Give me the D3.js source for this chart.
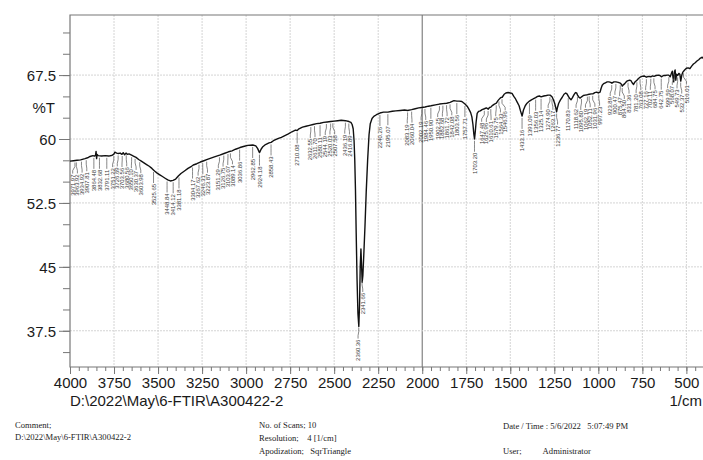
<!DOCTYPE html>
<html>
<head>
<meta charset="utf-8">
<script src="https://cdn.jsdelivr.net/npm/d3@7"></script>
<style>
  body { margin: 0; background: #fff; }
  svg { display: block; }
  .tick-label { font-family: "Liberation Sans", Arial, sans-serif; font-size: 15px; fill: #1a1a1a; }
  .foot { font-family: "Liberation Serif", "Times New Roman", serif; font-size: 8.6px; fill: #222; white-space: pre; }
  .peak { font-family: "Liberation Sans", Arial, sans-serif; font-size: 5.9px; fill: #3a3a3a; }
</style>
</head>
<body>
<div id="chart"></div>
<script>
// spectrum: [wavenumber 1/cm, %T]
var spectrum = [
  [4000,57.4],[3980,57.45],[3960,57.5],[3940,57.55],[3915,57.7],[3900,57.8],[3886,57.95],[3870,58.05],
  [3860,58.0],[3855,58.1],[3852,58.55],[3849,57.7],[3846,58.2],[3840,58.05],[3820,58.0],[3800,58.05],
  [3780,58.0],[3760,58.1],[3752,58.2],[3745,58.45],[3735,58.35],[3725,58.3],[3715,58.35],[3705,58.2],
  [3698,58.4],[3690,58.15],[3682,58.35],[3675,58.2],[3665,58.25],[3650,58.1],[3640,58.0],[3625,57.85],
  [3610,57.6],[3595,57.4],[3580,57.2],[3565,57.0],[3550,56.8],[3535,56.55],[3520,56.25],[3505,56.0],
  [3490,55.8],[3475,55.6],[3460,55.4],[3445,55.2],[3430,55.08],[3415,55.15],[3400,55.3],[3385,55.65],
  [3370,55.95],[3350,56.25],[3330,56.55],[3310,56.8],[3300,56.95],[3280,57.1],[3260,57.3],[3240,57.45],
  [3220,57.6],[3200,57.75],[3180,57.9],[3150,58.1],[3125,58.3],[3100,58.5],[3080,58.6],[3060,58.8],
  [3035,59.0],[3010,59.15],[2990,59.25],[2962,59.3],[2945,59.2],[2935,58.9],[2924,58.4],[2915,58.8],
  [2905,59.1],[2890,59.35],[2870,59.55],[2858,59.6],[2845,59.8],[2820,60.05],[2800,60.2],[2780,60.4],
  [2760,60.6],[2740,60.85],[2720,61.05],[2710,61.0],[2700,61.2],[2680,61.4],[2660,61.5],[2640,61.6],
  [2620,61.7],[2600,61.8],[2580,61.85],[2560,61.95],[2540,62.0],[2520,62.05],[2500,62.1],[2480,62.15],
  [2460,62.2],[2436,62.15],[2416,62.05],[2405,61.95],[2398,61.7],[2392,61.2],[2387,59.8],[2383,57.5],
  [2379,54.0],[2375,49.0],[2370,43.5],[2365,39.5],[2360,38.0],[2356,40.5],[2352,45.0],[2348,47.1],
  [2345,45.5],[2341,43.2],[2337,44.0],[2332,46.3],[2325,49.8],[2318,53.8],[2310,57.5],[2302,60.5],
  [2295,61.8],[2285,62.4],[2275,62.65],[2260,62.85],[2240,63.05],[2220,63.15],[2195,63.15],[2170,63.25],
  [2150,63.3],[2125,63.35],[2100,63.4],[2083,63.35],[2060,63.45],[2040,63.55],[2020,63.65],[2002,63.7],
  [1984,63.75],[1965,63.85],[1950,63.9],[1925,64.0],[1902,64.1],[1882,64.15],[1861,64.2],[1842,64.3],
  [1820,64.5],[1803,64.45],[1790,64.45],[1775,64.4],[1757,64.1],[1745,63.85],[1735,63.5],[1725,63.1],
  [1718,62.6],[1712,61.7],[1707,60.6],[1703,60.0],[1699,60.8],[1694,62.0],[1688,63.0],[1680,63.25],
  [1670,63.3],[1660,63.45],[1647,63.55],[1636,63.65],[1625,63.5],[1618,63.7],[1610,63.75],[1600,63.95],
  [1590,64.1],[1579,64.2],[1570,64.5],[1564,64.65],[1555,64.85],[1546,64.9],[1535,65.25],[1525,65.4],
  [1512,65.45],[1500,65.4],[1490,65.35],[1480,65.0],[1470,64.7],[1460,64.3],[1450,63.9],[1442,63.3],
  [1433,62.7],[1425,63.4],[1415,63.9],[1405,64.2],[1391,64.45],[1380,64.6],[1370,64.7],[1356,64.85],
  [1345,65.0],[1335,65.05],[1325,64.95],[1310,65.05],[1295,65.1],[1285,65.15],[1274,65.15],[1263,64.95],
  [1255,64.6],[1248,64.2],[1242,63.7],[1237,63.2],[1232,63.7],[1225,64.2],[1215,64.6],[1205,64.9],
  [1195,65.25],[1185,65.4],[1178,65.3],[1170,65.0],[1162,64.75],[1155,64.6],[1147,64.85],[1138,65.2],
  [1130,65.45],[1123,65.4],[1118,65.15],[1110,64.9],[1103,64.8],[1095,64.95],[1085,65.1],[1075,65.15],
  [1062,65.2],[1052,65.25],[1040,65.3],[1031,65.3],[1020,65.45],[1010,65.5],[1000,65.4],[990,65.5],
  [985,65.9],[978,66.3],[970,66.5],[960,66.6],[950,66.7],[940,66.7],[930,66.65],[923,66.55],
  [912,66.7],[900,66.7],[887,66.65],[875,66.55],[868,66.4],[864,66.2],[858,66.35],[850,66.5],
  [840,66.75],[831,66.85],[822,66.9],[815,66.85],[808,66.6],[800,66.4],[792,66.7],[781,66.9],
  [772,67.1],[763,67.25],[752,67.35],[740,67.4],[727,67.25],[715,67.35],[702,67.3],[693,67.4],
  [684,67.35],[672,67.45],[660,67.5],[650,67.45],[642,67.3],[630,67.45],[620,67.45],[610,67.5],
  [600,67.5],[592,67.3],[585,67.7],[580,67.95],[576,67.2],[572,66.7],[568,67.9],[564,68.1],
  [560,66.9],[556,67.6],[549,67.45],[543,67.7],[537,67.6],[532,66.8],[526,67.5],[520,67.85],
  [510,68.1],[500,68.3],[490,68.35],[480,68.25],[470,68.55],[460,68.8],[450,68.95],[440,69.15],
  [430,69.3],[420,69.5],[410,69.6],[400,69.4]
];

// peak table labels
var peakLabels = [
  "3971.97","3963.92","3934.92","3907.81","3864.48","3832.68","3791.11","3751.22","3726.69","3703.56",
  "3680.56","3650.10","3630.37","3603.98","3525.65","3448.84","3414.12","3381.18","3304.17","3267.62",
  "3246.31","3223.87","3151.29","3126.75","3103.07","3089.14","3036.86","2962.85","2924.18","2858.43",
  "2710.08","2632.55","2611.70","2580.11","2544.19","2520.03","2507.58","2436.19","2416.89","2360.36",
  "2341.66","2240.26","2195.07","2083.19","2060.04","2002.19","1984.46","1950.90","1902.25","1882.68",
  "1861.72","1842.08","1803.56","1757.71","1703.20","1647.48","1625.96","1610.61","1579.75","1564.33",
  "1546.96","1433.16","1391.09","1356.03","1325.14","1274.90","1263.17","1236.77","1170.83","1118.62",
  "1095.80","1062.19","1052.11","1031.96","997.23","923.89","900.47","875.47","864.50","831.36",
  "781.20","763.08","727.16","702.11","684.75","642.75","599.59","568.07","549.73","532.37","516.01"
];

var xTickValues = [4000, 3750, 3500, 3250, 3000, 2750, 2500, 2250, 2000, 1750, 1500, 1250, 1000, 750, 500];
var yTickValues = [37.5, 45, 52.5, 60, 67.5];

var footLeft = ["Comment;", "D:\\2022\\May\\6-FTIR\\A300422-2"];
var footMid = ["No. of Scans; 10", "Resolution;    4 [1/cm]", "Apodization;   SqrTriangle"];
var footRight = ["Date / Time : 5/6/2022   5:07:49 PM", "", "User;          Administrator"];

var W = 703, H = 460;
var plot = {left: 70, top: 15, right: 704, bottom: 367};

var xScale = d3.scaleLinear().domain([4000, 400]).range([plot.left, plot.right]);
var yScale = d3.scaleLinear().domain([33.25, 74.55]).range([plot.bottom, plot.top]);

var svg = d3.select("#chart").append("svg")
  .attr("width", W)
  .attr("height", H);

svg.append("defs").append("clipPath").attr("id", "clip")
  .append("rect")
  .attr("x", plot.left).attr("y", plot.top)
  .attr("width", plot.right - plot.left).attr("height", plot.bottom - plot.top);

// grid
var grid = svg.append("g");
grid.selectAll("line.vg")
  .data(xTickValues.filter(function(d) { return d !== 4000; }))
  .enter().append("line")
  .attr("x1", function(d) { return xScale(d); })
  .attr("x2", function(d) { return xScale(d); })
  .attr("y1", plot.top).attr("y2", plot.bottom)
  .attr("stroke", function(d) { return d === 2000 ? "#777" : "#d4d4d4"; })
  .attr("stroke-width", function(d) { return d === 2000 ? 1.1 : 1; })
  .attr("stroke-dasharray", function(d) { return d === 2000 ? null : "2,1"; });

grid.selectAll("line.hg")
  .data(yTickValues)
  .enter().append("line")
  .attr("x1", plot.left).attr("x2", plot.right)
  .attr("y1", function(d) { return yScale(d); })
  .attr("y2", function(d) { return yScale(d); })
  .attr("stroke", "#d4d4d4")
  .attr("stroke-dasharray", "2,1");

// axes
var xAxis = d3.axisBottom(xScale).tickValues(xTickValues).tickSize(7).tickPadding(3)
  .tickFormat(d3.format("d"));
var xMinor = d3.axisBottom(xScale).tickValues(d3.range(4000, 399, -50)).tickSize(4).tickFormat("");
var yAxis = d3.axisLeft(yScale).tickValues(yTickValues).tickSize(11).tickPadding(3)
  .tickFormat(function(d) { return d; });
var yMinor = d3.axisLeft(yScale).tickValues(d3.range(35, 74, 2.5)).tickSize(7).tickFormat("");

function styleAxis(g) {
  g.select(".domain").remove();
  g.selectAll(".tick line").attr("stroke", "#777");
  g.selectAll(".tick text").attr("class", "tick-label").attr("fill", null);
}

svg.append("g").attr("transform", "translate(0," + plot.bottom + ")").call(xMinor).call(styleAxis);
svg.append("g").attr("transform", "translate(0," + plot.bottom + ")").call(xAxis).call(styleAxis);
svg.append("g").attr("transform", "translate(" + plot.left + ",0)").call(yMinor).call(styleAxis);
svg.append("g").attr("transform", "translate(" + plot.left + ",0)").call(yAxis).call(styleAxis)
  .selectAll(".tick text").attr("dy", "0.36em");

// frame
svg.append("path")
  .attr("d", "M" + plot.right + "," + plot.top + "H" + plot.left + "V" + plot.bottom + "H" + plot.right)
  .attr("fill", "none")
  .attr("stroke", "#777")
  .attr("stroke-width", 1.2);

// spectrum
var line = d3.line()
  .x(function(d) { return xScale(d[0]); })
  .y(function(d) { return yScale(d[1]); });

svg.append("path")
  .datum(spectrum)
  .attr("clip-path", "url(#clip)")
  .attr("d", line)
  .attr("fill", "none")
  .attr("stroke", "#111")
  .attr("stroke-width", 1.4)
  .attr("stroke-linejoin", "round");

// peak labels: find curve position, then spread crowded ones apart
var asc = spectrum.slice().sort(function(a, b) { return a[0] - b[0]; });
var bis = d3.bisector(function(d) { return d[0]; }).left;
function curveAt(w) {
  var i = bis(asc, w);
  if (i <= 0) return asc[0][1];
  if (i >= asc.length) return asc[asc.length - 1][1];
  var a = asc[i - 1], b = asc[i];
  return a[1] + (b[1] - a[1]) * (w - a[0]) / (b[0] - a[0]);
}

var peaks = peakLabels.map(function(s) {
  var w = parseFloat(s);
  return {text: s, x: xScale(w), yc: yScale(curveAt(w))};
}).sort(function(a, b) { return a.x - b.x; });

var gap = 4.7;
var clusters = peaks.map(function(p) { return {items: [p], pos: p.x}; });
var moved = true;
while (moved) {
  moved = false;
  for (var i = 0; i < clusters.length - 1; i++) {
    var a = clusters[i], b = clusters[i + 1];
    var aEnd = a.pos + (a.items.length - 1) * gap;
    if (b.pos - aEnd < gap) {
      var items = a.items.concat(b.items);
      var mean = d3.mean(items, function(d) { return d.x; });
      clusters.splice(i, 2, {items: items, pos: mean - (items.length - 1) * gap / 2});
      moved = true;
      break;
    }
  }
}
clusters.forEach(function(c) {
  c.items.forEach(function(p, k) { p.lx = c.pos + k * gap; });
});

var pg = svg.append("g").attr("clip-path", "url(#clip)");
peaks.forEach(function(p) {
  var top = p.yc + 14;
  pg.append("path")
    .attr("d", "M" + p.x + "," + (p.yc + 2) + "V" + (p.yc + 6) + "L" + p.lx + "," + (p.yc + 10) + "V" + (top - 1))
    .attr("fill", "none")
    .attr("stroke", "#555")
    .attr("stroke-width", 0.7);
  pg.append("text")
    .attr("class", "peak")
    .attr("text-anchor", "end")
    .attr("transform", "translate(" + (p.lx + 2.1) + "," + top + ") rotate(-90)")
    .text(p.text);
});

// axis titles
svg.append("text").attr("class", "tick-label").attr("text-anchor", "end")
  .attr("x", 55).attr("y", 113).text("%T");
svg.append("text").attr("class", "tick-label")
  .attr("x", 70).attr("y", 406).text("D:\\2022\\May\\6-FTIR\\A300422-2");
svg.append("text").attr("class", "tick-label").attr("text-anchor", "end")
  .attr("x", 702).attr("y", 406).text("1/cm");

// footer
footLeft.forEach(function(t, i) {
  svg.append("text").attr("class", "foot").attr("x", 15).attr("y", 428 + i * 12).text(t);
});
footMid.forEach(function(t, i) {
  svg.append("text").attr("class", "foot").attr("x", 259).attr("y", 428 + i * 13).text(t);
});
footRight.forEach(function(t, i) {
  if (t) svg.append("text").attr("class", "foot").attr("x", 503).attr("y", 429 + i * 12.5).text(t);
});
</script>
</body>
</html>
